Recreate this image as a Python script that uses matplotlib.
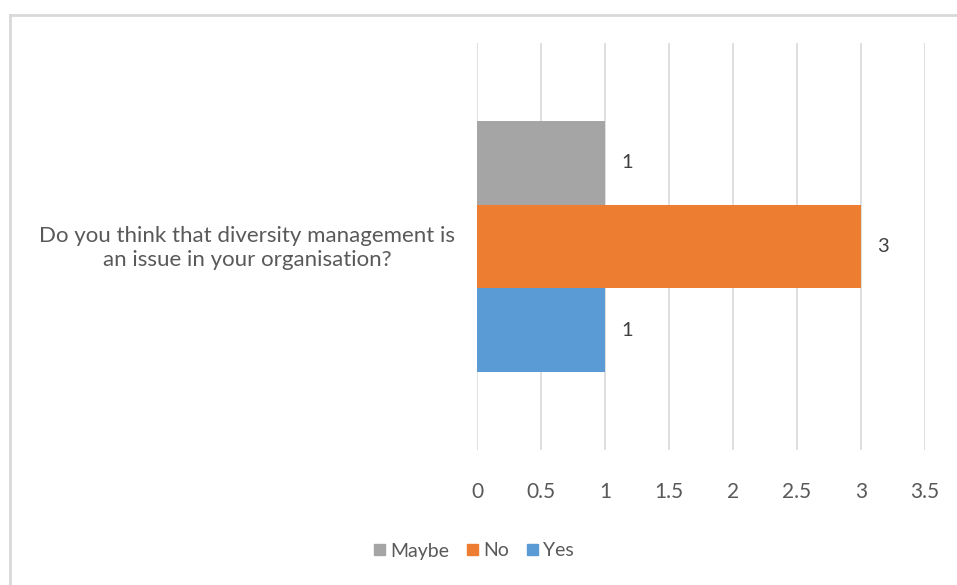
import matplotlib.pyplot as plt
from matplotlib.patches import Rectangle
from matplotlib.lines import Line2D

# survey answers, one bar each
question = "Do you think that diversity management is\nan issue in your organisation?"
answers = ['Maybe', 'No', 'Yes']
counts = [1, 3, 1]
colors = ['#a5a5a5', '#ed7d31', '#5b9bd5']
xticks = [0, 0.5, 1, 1.5, 2, 2.5, 3, 3.5]
xtick_labels = ['0', '0.5', '1', '1.5', '2', '2.5', '3', '3.5']

plt.rcParams['font.family'] = ['Lato', 'DejaVu Sans']

W, H = 957, 585
fig = plt.figure(figsize=(W / 100, H / 100), dpi=100)
ax = fig.add_axes([477 / W, 1 - 450 / H, (925 - 477) / W, (450 - 43) / H])

bar_h = 0.206
offsets = [bar_h, 0, -bar_h]
for name, val, col, off in zip(answers, counts, colors, offsets):
    ax.barh(off, val, height=bar_h, color=col, label=name, zorder=3)
    ax.text(val + 0.17, off, str(val), ha='center', va='center',
            fontsize=14.5, color='#404040', zorder=4)

ax.set_xlim(0, 3.5)
ax.set_ylim(-0.5, 0.5)
ax.set_xticks(xticks)
ax.set_xticklabels(xtick_labels, fontsize=15, color='#595959')
ax.set_yticks([])
ax.tick_params(axis='x', length=0, pad=23)
ax.grid(axis='x', color='#d9d9d9', linewidth=1.2, zorder=0)
for s in ax.spines.values():
    s.set_visible(False)

# wrapped category label, centred in the space left of the plot
fig.text(247 / W, 1 - 248 / H, question, ha='center', va='center',
         fontsize=16, color='#595959', linespacing=1.27)

# legend below the chart
handles = [Rectangle((0, 0), 1, 1, color=c) for c in colors]
fig.legend(handles, answers, loc='center', bbox_to_anchor=(474 / W, 1 - 551 / H),
           ncol=3, frameon=False, fontsize=14, handlelength=0.55, handleheight=0.55,
           handletextpad=0.3, columnspacing=0.9, labelcolor='#595959')

# chart area border (runs off the right and bottom edges)
fig.add_artist(Line2D([10 / W, 10 / W], [0, 1 - 15 / H], color='#d9d9d9', linewidth=2))
fig.add_artist(Line2D([10 / W, 1], [1 - 15 / H, 1 - 15 / H], color='#d9d9d9', linewidth=2))

fig.savefig('out.png', dpi=100, facecolor='white')
